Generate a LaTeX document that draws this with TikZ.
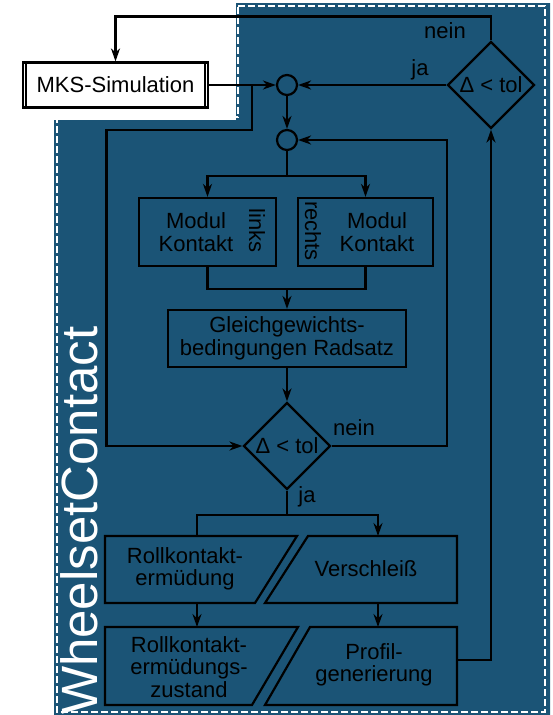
\documentclass[tikz,border=0pt]{standalone}
\usepackage{fontspec}
\setmainfont{Liberation Sans}
\usepackage{tikz}
\usetikzlibrary{arrows.meta,calc,shapes.geometric}
\definecolor{wcblue}{RGB}{27,84,118}

\begin{document}
\begin{tikzpicture}[x=1pt, y=-1pt, line width=2.2pt,
    box/.style={draw, rectangle, inner sep=0pt},
    dec/.style={draw, diamond, aspect=1, minimum width=87pt, minimum height=87pt, inner sep=0pt, font=\fontsize{22}{22.5}\selectfont},
    junc/.style={draw, circle, minimum size=20pt, inner sep=0pt},
    txt/.style={align=center, inner sep=0pt, font=\fontsize{22}{22.5}\selectfont},
    arr/.style={-{Stealth[length=13pt,width=9pt]}}]

    \useasboundingbox (0,0) rectangle (553,715);

    % Background
    \fill[wcblue] (236,3) -- (550,3) -- (550,715) -- (54,715) -- (54,120) -- (236,120) -- cycle;
    \draw[white, line width=1.6pt, dash pattern=on 7pt off 3pt] (238,6) -- (545,6) -- (545,712) -- (57,712) -- (57,117) -- (238,117) -- cycle;
    \node[rotate=90, anchor=base west, inner sep=0pt, text=white, font=\fontsize{51}{51}\selectfont] (wc) at (97,716) {WheelsetContact};

    % MKS box
    \node[box, txt, fill=white, minimum width=185pt, minimum height=45pt] (mks) at (115.5,85) {MKS-Simulation};
    \draw ([xshift=4pt]mks.north west) -- ([xshift=4pt]mks.south west);
    \draw ([xshift=-4pt]mks.north east) -- ([xshift=-4pt]mks.south east);

    % Junctions and decisions
    \node[junc] (c1) at (287,85) {};
    \node[junc] (c2) at (287,140) {};
    \node[dec] (d1) at (491,85) {Δ < tol};
    \node[dec] (d2) at (287,446) {Δ < tol};

    % Contact modules
    \node[box, minimum width=137pt, minimum height=68pt] (kl) at (207.5,232) {};
    \node[box, minimum width=135pt, minimum height=68pt] (kr) at (365.5,232) {};
    \node[txt] (klt) at (196,232) {Modul\\Kontakt};
    \node[txt, rotate=-90] (kll) at (257,231) {links};
    \node[txt] (krt) at (377,232) {Modul\\Kontakt};
    \node[txt, rotate=-90] (krl) at (313,231) {rechts};
    \node[box, txt, minimum width=238pt, minimum height=57pt] (gl) at (287,338.5) {Gleichgewichts-\\bedingungen Radsatz};

    % Results
    \draw (105,536) -- (297,536) -- (255,603) -- (105,603) -- cycle;
    \draw (308,536) -- (457,536) -- (457,603) -- (265,603) -- cycle;
    \draw (105,627) -- (298,627) -- (252,705) -- (105,705) -- cycle;
    \draw (310,627) -- (457,627) -- (457,705) -- (265,705) -- cycle;
    \node[txt] (r1t) at (185,569) {Rollkontakt-\\ermüdung};
    \node[txt] (vst) at (366,569) {Verschleiß};
    \node[txt] (r2t) at (189,667) {Rollkontakt-\\ermüdungs-\\zustand};
    \node[txt] (pgt) at (374,665) {Profil-\\generierung};
    \coordinate (r1n) at (197,536);
    \coordinate (r1s) at (197,603);
    \coordinate (r2n) at (197,627);
    \coordinate (vsn) at (378,536);
    \coordinate (vss) at (378,603);
    \coordinate (pgn) at (378,627);
    \coordinate (pge) at (457,660);

    % Labels
    \node[txt, anchor=base] (nein1) at (445,38) {nein};
    \node[txt, anchor=base] (ja1) at (420,75) {ja};
    \node[txt, anchor=base] (nein2) at (354,435) {nein};
    \node[txt, anchor=base] (ja2) at (307,502) {ja};

    % Connectors
    \coordinate (sp) at (252,85);
    \draw[arr] (mks.east) -- (c1.west);
    \draw[arr] (sp) -- ++(0,45) -| ([xshift=-136pt]d2.west) -- (d2.west);
    \draw[arr] (c1) -- (c2);
    \draw[arr] (d1.west) -- (c1.east);
    \draw[arr] (d1.north) -- ++(0,-24) -| (mks.north);
    \draw[arr] (d2.east) -- ++(115,0) |- (c2.east);
    \draw (c2.south) -- ++(0,25) coordinate (br1);
    \draw[arr] (br1) -| (kl.north);
    \draw[arr] (br1) -| (kr.north);
    \draw (kl.south) -- ++(0,22) coordinate (mg) -| (kr.south);
    \draw[arr] (gl.north |- mg) -- (gl.north);
    \draw[arr] (gl.south) -- (d2.north);
    \draw (d2.south) -- ++(0,24) coordinate (br2);
    \draw (br2) -| (r1n);
    \draw[arr] (br2) -| (vsn);
    \draw[arr] (r1s) -- (r2n);
    \draw[arr] (vss) -- (pgn);
    \draw[arr] (pge) -| (d1.south);

\end{tikzpicture}
\end{document}
